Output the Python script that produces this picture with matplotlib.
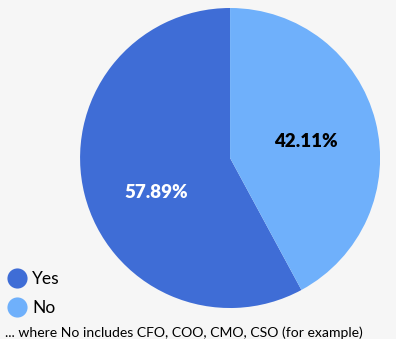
import matplotlib.pyplot as plt
from matplotlib.lines import Line2D

# dados do grafico
categorias = ['Yes', 'No']
valores = [57.89, 42.11]
cores = ['#3f6dd6', '#6fb0fb']
cor_rotulo = ['white', 'black']
nota = '... where No includes CFO, COO, CMO, CSO (for example)'

plt.rcParams['font.family'] = ['Lato', 'DejaVu Sans']

fig = plt.figure(figsize=(3.96, 3.39), dpi=100, facecolor='#f6f6f6')
ax = fig.add_axes([0.202, 0.0914, 0.758, 0.885])
ax.set_facecolor('#f6f6f6')

fatias, _ = ax.pie(valores, colors=cores, startangle=90, counterclock=True,
                   wedgeprops={'linewidth': 0})
ax.set_xlim(-1, 1)
ax.set_ylim(-1, 1)
ax.set_aspect('equal')

# rotulos de porcentagem (posicao como no original)
pos = [(-0.49, -0.227), (0.507, 0.107)]
for v, p, c in zip(valores, pos, cor_rotulo):
    ax.text(p[0], p[1], '%.2f%%' % v, color=c, fontsize=13.5, fontweight='heavy',
            ha='center', va='center')

# legenda
alcas = [Line2D([], [], marker='o', linestyle='', markersize=14.5,
                markerfacecolor=c, markeredgewidth=0) for c in cores]
fig.legend(alcas, categorias, loc='lower left', bbox_to_anchor=(-0.008, 0.047),
           frameon=False, fontsize=12.5, handletextpad=0.15, labelspacing=0.75,
           handlelength=1.5, borderaxespad=0)

fig.text(0.012, 0.0, nota, fontsize=10.1, ha='left', va='bottom')

fig.savefig('out.png', dpi=100, facecolor=fig.get_facecolor())
